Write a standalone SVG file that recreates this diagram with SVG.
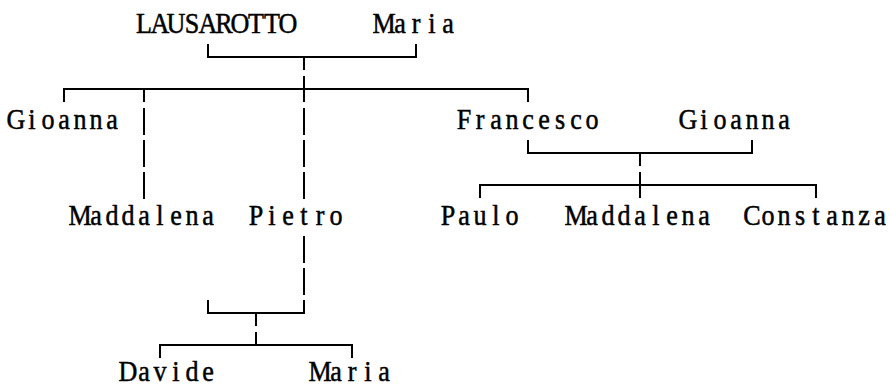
<svg xmlns="http://www.w3.org/2000/svg" width="892" height="387" viewBox="0 0 892 387">
<style>
.t{font-family:"Liberation Serif","DejaVu Serif",serif;font-size:29px;fill:#000;stroke:#000;stroke-width:0.5;text-anchor:middle}
.c{stroke:#000;stroke-width:2;fill:none;stroke-linecap:butt}
</style>
<rect width="892" height="387" fill="#fff"/>
<g id="connectors" class="c">
<path d="M208,44V57H416V44M304,57V70"/>
<path d="M64,102V89H528V102M144,89V102M304,76V102"/>
<path d="M144,108V135M304,108V135M144,140V167M304,140V167M144,172V199M304,172V199"/>
<path d="M528,140V153H752V140M640,153V166"/>
<path d="M480,198V185H816V198M640,172V198"/>
<path d="M304,236V263M304,268V295"/>
<path d="M208,300V313H304V300M256,313V326"/>
<path d="M160,358V345H352V358M256,332V345"/>
</g>
<g transform="scale(0.9,1)">
<g id="n-lausarotto"><text class="t" x="160 177.78 195.56 213.33 231.11 248.89 266.67 284.44 302.22 320" y="33">LAUSAROTTO</text></g>
<g id="n-maria"><text class="t" x="426.67 444.44 462.22 480 497.78" y="33">Maria</text></g>
<g id="n-gioanna"><text class="t" x="17.78 35.56 53.33 71.11 88.89 106.67 124.44" y="129">Gioanna</text></g>
<g id="n-francesco"><text class="t" x="515.56 533.33 551.11 568.89 586.67 604.44 622.22 640 657.78" y="129">Francesco</text></g>
<g id="n-gioanna2"><text class="t" x="764.44 782.22 800 817.78 835.56 853.33 871.11" y="129">Gioanna</text></g>
<g id="n-maddalena"><text class="t" x="88.89 106.67 124.44 142.22 160 177.78 195.56 213.33 231.11" y="225">Maddalena</text></g>
<g id="n-pietro"><text class="t" x="284.44 302.22 320 337.78 355.56 373.33" y="225">Pietro</text></g>
<g id="n-paulo"><text class="t" x="497.78 515.56 533.33 551.11 568.89" y="225">Paulo</text></g>
<g id="n-maddalena2"><text class="t" x="640 657.78 675.56 693.33 711.11 728.89 746.67 764.44 782.22" y="225">Maddalena</text></g>
<g id="n-constanza"><text class="t" x="835.56 853.33 871.11 888.89 906.67 924.44 942.22 960 977.78" y="225">Constanza</text></g>
<g id="n-davide"><text class="t" x="142.22 160 177.78 195.56 213.33 231.11" y="381">Davide</text></g>
<g id="n-maria2"><text class="t" x="355.56 373.33 391.11 408.89 426.67" y="381">Maria</text></g>
</g>
</svg>
